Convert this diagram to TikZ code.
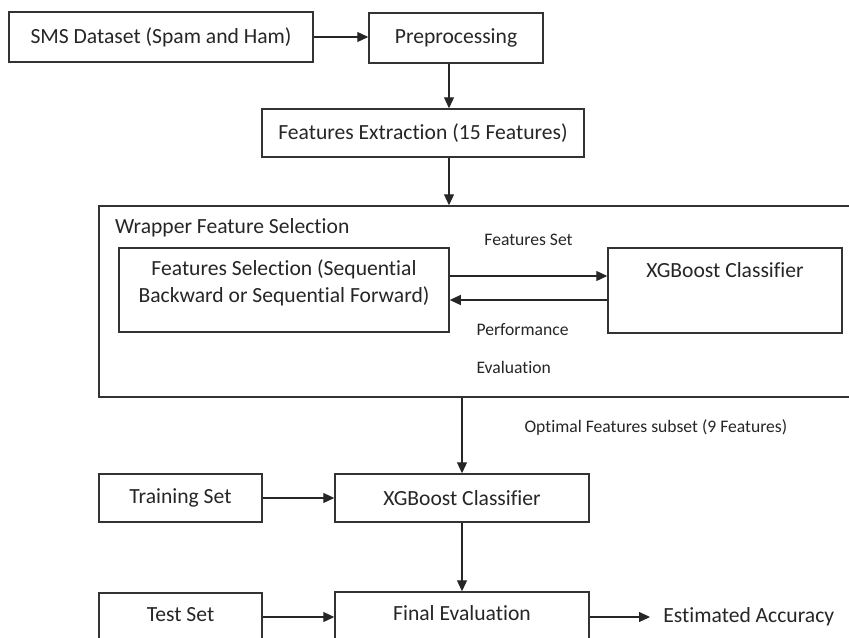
\documentclass[tikz,border=0pt]{standalone}
\usepackage{fontspec}
\setmainfont[Ligatures=NoCommon]{Carlito}
\usetikzlibrary{arrows.meta,positioning,calc}

\begin{document}
\begin{tikzpicture}[x=0.5pt,y=-0.5pt,
				box/.style={draw=black!80,line width=0.75pt,fill=white,inner sep=0pt,font=\fontsize{10.8}{13.5}\selectfont,text=black!85},
				arrow/.style={draw=black!85,line width=0.55pt,-{Triangle[length=5.5pt,width=5pt]}},
				lbl/.style={font=\fontsize{8.8}{10.5}\selectfont,text=black!85,inner sep=0pt},
				plain/.style={font=\fontsize{10.8}{13.5}\selectfont,text=black!85}]
			\clip (0,0) rectangle (849,637);
			\fill[white] (0,0) rectangle (849,637);
			% top row
			\node [box,minimum width=152pt,minimum height=25pt] (sms) at (161,37) {SMS Dataset (Spam and Ham)};
			\node [box,minimum width=87pt,minimum height=25pt] (prep) at (456,38) {Preprocessing};
			\node [box,minimum width=161pt,minimum height=24pt] (fe) at (423,133) {Features Extraction (15 Features)};
			% wrapper
			\node [box,minimum width=385.5pt,minimum height=95.5pt] (wrap) at (484.5,301.5) {};
			\node [plain,anchor=west] (wraptitle) at (108,228) {Wrapper Feature Selection};
			\node [box,minimum width=165pt,minimum height=42pt,align=center,text depth=8.7pt] (fs) at (284,290)
				{Features Selection (Sequential\\Backward or Sequential Forward)};
			\node [box,minimum width=117pt,minimum height=42.5pt,text depth=20.5pt] (xgbin) at (725,290.5) {XGBoost Classifier};
			% training and test
			\node [box,minimum width=127pt,minimum height=24pt] (xgb) at (462,498) {XGBoost Classifier};
			\node [box,minimum width=81.5pt,minimum height=24pt] (train) at (180.5,498) {Training Set};
			\node [box,minimum width=127pt,minimum height=24pt,text depth=3pt] (final) at (462,616) {Final Evaluation};
			\node [box,minimum width=81.5pt,minimum height=24pt,text depth=3pt] (test) at (180.5,617) {Test Set};
			\node [plain,anchor=west,inner xsep=6.5pt] (acc) at (650,617) {Estimated Accuracy};

			\coordinate (tap) at ([xshift=-3.5pt]prep.south);
			\draw [arrow] (sms) -- (sms -| prep.west);
			\draw [arrow] (tap) -- (tap |- fe.north);
			\draw [arrow] (tap |- fe.south) -- (tap |- wrap.north);
			\draw [arrow] ($(fs.east)+(0,-14)$) coordinate (fsout) -- node[lbl,above=15pt] {Features Set} (fsout -| xgbin.west);
			\draw [arrow] ($(xgbin.west)+(0,9.5)$) coordinate (xgbout) -- node[lbl,below=11.5pt,xshift=-3pt,align=left] {Performance\\[8.5pt]Evaluation} (xgbout -| fs.east);
			\draw [arrow] (wrap.south -| xgb) -- node[lbl,pos=0.4,right=31pt] {Optimal Features subset (9 Features)} (xgb.north);
			\draw [arrow] (train) -- (train -| xgb.west);
			\draw [arrow] (xgb.south) -- (final.north);
			\draw [arrow] (test) -- (test -| final.west);
			\draw [arrow] (final.east |- acc) -- (acc.west);
		\end{tikzpicture}
\end{document}
